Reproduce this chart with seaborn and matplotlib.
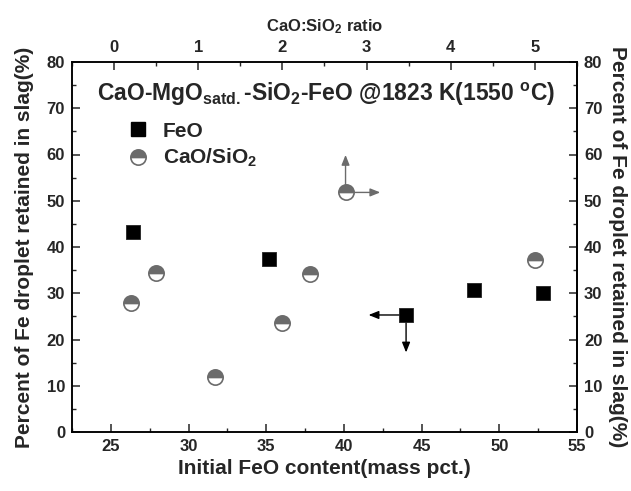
import numpy as np
import matplotlib
matplotlib.use("Agg")
import matplotlib.pyplot as plt
from matplotlib.ticker import MultipleLocator
from matplotlib.lines import Line2D
import seaborn as sns

# data
feo_content = [26.4, 35.2, 44.0, 48.4, 52.8]          # mass pct.
feo_retained = [43.2, 37.4, 25.3, 30.6, 30.1]          # %
cs_ratio = [0.20, 0.50, 1.20, 1.99, 2.33, 2.75, 5.00]  # CaO:SiO2
cs_retained = [28.0, 34.4, 12.0, 23.6, 34.2, 51.8, 37.1]

sns.set_theme(style="white")
plt.rcParams["font.family"] = ["Liberation Sans", "DejaVu Sans"]
plt.rcParams["font.weight"] = "bold"
plt.rcParams["axes.labelweight"] = "bold"
plt.rcParams["mathtext.fontset"] = "custom"
plt.rcParams["mathtext.rm"] = "Liberation Sans:bold"
plt.rcParams["mathtext.it"] = "Liberation Sans:bold"
plt.rcParams["mathtext.bf"] = "Liberation Sans:bold"
plt.rcParams["mathtext.default"] = "rm"

gray = "#6b6b6b"

fig = plt.figure(figsize=(6.31, 4.91), dpi=100)
ax = fig.add_axes([72 / 631, 1 - 432 / 491, 505 / 631, 370 / 491])
ax2 = ax.twiny()

# FeO series on the bottom axis
sns.scatterplot(x=feo_content, y=feo_retained, marker="s", s=100, color="black",
                edgecolor="#222222", linewidth=0.6, zorder=5, ax=ax)

# CaO/SiO2 series on the top axis
sns.lineplot(x=cs_ratio, y=cs_retained, ax=ax2, marker="o", linestyle="",
             markersize=11, fillstyle="top", color=gray, markerfacecolor=gray,
             markerfacecoloralt="white", markeredgecolor=gray, markeredgewidth=1.2,
             estimator=None, sort=False, zorder=5)

ax.set_xlim(22.5, 55)
ax.set_ylim(0, 80)
ax2.set_xlim(-0.5, 5.5)

ax.xaxis.set_major_locator(MultipleLocator(5))
ax.xaxis.set_minor_locator(MultipleLocator(2.5))
ax.yaxis.set_major_locator(MultipleLocator(10))
ax.yaxis.set_minor_locator(MultipleLocator(5))
ax2.xaxis.set_major_locator(MultipleLocator(1))
ax2.xaxis.set_minor_locator(MultipleLocator(0.5))

sec = ax.secondary_yaxis("right")
sec.yaxis.set_major_locator(MultipleLocator(10))
sec.yaxis.set_minor_locator(MultipleLocator(5))

for a in (ax, ax2, sec):
    a.tick_params(which="major", direction="in", length=6, width=1.1, labelsize=12, pad=5)
    a.tick_params(which="minor", direction="in", length=3, width=1.0)
for a in (ax, ax2):
    for sp in a.spines.values():
        sp.set_color("black")
        sp.set_linewidth(1.1)
sec.spines["right"].set_linewidth(1.1)
ax.tick_params(axis="x", which="both", bottom=True, top=False)
ax.tick_params(axis="y", which="both", left=True, right=False)
ax2.tick_params(axis="x", which="both", top=True, bottom=False)

ax.set_xlabel("Initial FeO content(mass pct.)", fontsize=15, labelpad=4)
ax.set_ylabel("Percent of Fe droplet retained in slag(%)", fontsize=15, labelpad=9)
ax2.set_xlabel("CaO:SiO$_2$ ratio", fontsize=12, labelpad=6)
ax2.set_ylabel("")
sec.set_ylabel("Percent of Fe droplet retained in slag(%)", fontsize=15,
               rotation=270, labelpad=18)

ax.text(0.05, 0.913, "CaO-MgO$_{satd.}$-SiO$_2$-FeO @1823 K(1550 $^o$C)",
        transform=ax.transAxes, fontsize=16.5, va="center", ha="left")

# arrows pointing to the axis each series belongs to
arrow = dict(arrowstyle="<|-,head_length=0.5,head_width=0.2", lw=1.0,
             shrinkA=0, shrinkB=0, mutation_scale=12)
ax.annotate("", xy=(feo_content[2], feo_retained[2]), xytext=(-27, 0),
            textcoords="offset points", arrowprops=dict(arrow, color="black"), zorder=1)
ax.annotate("", xy=(feo_content[2], feo_retained[2]), xytext=(0, -27),
            textcoords="offset points", arrowprops=dict(arrow, color="black"), zorder=1)
ax2.annotate("", xy=(cs_ratio[5], cs_retained[5]), xytext=(0, 27),
             textcoords="offset points", arrowprops=dict(arrow, color=gray), zorder=1)
ax2.annotate("", xy=(cs_ratio[5], cs_retained[5]), xytext=(25, 0),
             textcoords="offset points", arrowprops=dict(arrow, color=gray), zorder=1)

handles = [
    Line2D([], [], marker="s", linestyle="", markersize=10, color="black"),
    Line2D([], [], marker="o", linestyle="", markersize=11, fillstyle="top",
           color=gray, markerfacecolor=gray, markerfacecoloralt="white",
           markeredgecolor=gray, markeredgewidth=1.2),
]
ax2.legend(handles, ["FeO", "CaO/SiO$_2$"], loc="upper left",
           bbox_to_anchor=(0.106, 0.839), frameon=False, fontsize=15,
           handlelength=1.2, handletextpad=0.6, borderpad=0, borderaxespad=0,
           labelspacing=0.3)

fig.savefig("out.png", dpi=100)
